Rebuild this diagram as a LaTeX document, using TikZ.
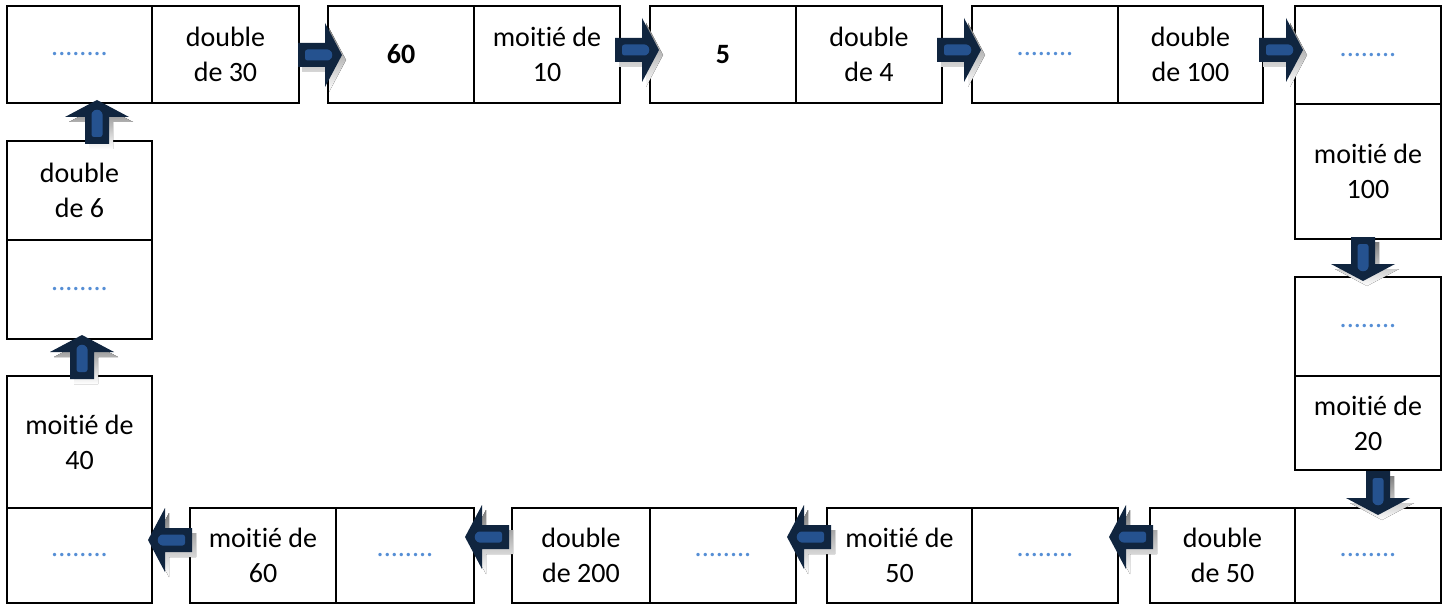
\documentclass[tikz,border=0pt]{standalone}
\usepackage{fontspec}
\setmainfont[Ligatures={NoCommon,NoRare,NoDiscretionary},Contextuals={NoAlternate}]{Carlito}
\definecolor{navy}{HTML}{10253F}
\definecolor{stripe}{HTML}{25528F}
\definecolor{shade}{HTML}{8E9BB0}
\definecolor{dotblue}{HTML}{558ED5}
\newcommand\dts{\textcolor{dotblue}{........}}
\newcommand\cellbox[6]{%
  \node[cell, minimum width={#4-#2}, minimum height={#5-#3}] (#1) at ({(#2+#4)/2},{(#3+#5)/2}) {#6};}
\newcommand\blkarrow[3]{%
  \begin{scope}[shift={(#1+4,#2+5)},rotate=#3]
    \fill[shade] (-44,-12) -- (-17,-12) -- (-17,-32) -- (0,0) -- (-17,32) -- (-17,12) -- (-44,12) -- cycle;
  \end{scope}
  \begin{scope}[shift={(#1,#2)},rotate=#3]
    \fill[navy] (-44,-12) -- (-17,-12) -- (-17,-32) -- (0,0) -- (-17,32) -- (-17,12) -- (-44,12) -- cycle;
    \fill[stripe, rounded corners=2.5pt] (-37,-5.5) -- (-12,-5.5) -- (-9,0) -- (-12,5.5) -- (-37,5.5) -- cycle;
  \end{scope}}
\begin{document}
\begin{tikzpicture}[x=1pt,y=-1pt,
  cell/.style={draw, line width=2.2pt, inner sep=0pt, outer sep=0pt, align=center,
    font=\fontsize{28}{35}\selectfont}]
\fill[white] (0,0) rectangle (1450,604);
\useasboundingbox (0,0) rectangle (1450,604);
% top row
\cellbox{A}{7}{6}{152}{103}{\dts}
\cellbox{B}{152}{6}{299}{103}{double\\de 30}
\cellbox{C}{328}{6}{474}{103}{\textbf{60}}
\cellbox{D}{474}{6}{620}{103}{moitié de\\10}
\cellbox{E}{650}{6}{796}{103}{\textbf{5}}
\cellbox{F}{796}{6}{942}{103}{double\\de 4}
\cellbox{G}{972}{6}{1118}{103}{\dts}
\cellbox{H}{1118}{6}{1263}{103}{double\\de 100}
\cellbox{I}{1295}{6}{1441}{104}{\dts}
% right column
\cellbox{J}{1295}{104}{1441}{239}{moitié de\\100}
\cellbox{K}{1295}{277}{1441}{376}{\dts}
\cellbox{L}{1295}{376}{1441}{470}{moitié de\\20}
% bottom row
\cellbox{N}{1295}{508}{1441}{603}{\dts}
\cellbox{M}{1150}{508}{1295}{603}{double\\de 50}
\cellbox{P}{972}{508}{1118}{603}{\dts}
\cellbox{O}{827}{508}{972}{603}{moitié de\\50}
\cellbox{R}{650}{508}{796}{603}{\dts}
\cellbox{Q}{512}{508}{650}{603}{double\\de 200}
\cellbox{T}{336}{508}{474}{603}{\dts}
\cellbox{S}{190}{508}{336}{603}{moitié de\\60}
\cellbox{U}{7}{508}{152}{603}{\dts}
% left column
\cellbox{V}{7}{376}{152}{508}{moitié de\\40}
\cellbox{W}{7}{240}{152}{339}{\dts}
\cellbox{X}{7}{141}{152}{240}{double\\de 6}
% arrows
\blkarrow{342}{55}{0}
\blkarrow{659}{50}{0}
\blkarrow{981}{50}{0}
\blkarrow{1303}{50}{0}
\blkarrow{1363}{281}{-90}
\blkarrow{1378}{515}{-90}
\blkarrow{1109}{537}{180}
\blkarrow{787}{537}{180}
\blkarrow{465}{537}{180}
\blkarrow{148}{540}{180}
\blkarrow{82}{335}{90}
\blkarrow{97}{100}{90}
\end{tikzpicture}
\end{document}
